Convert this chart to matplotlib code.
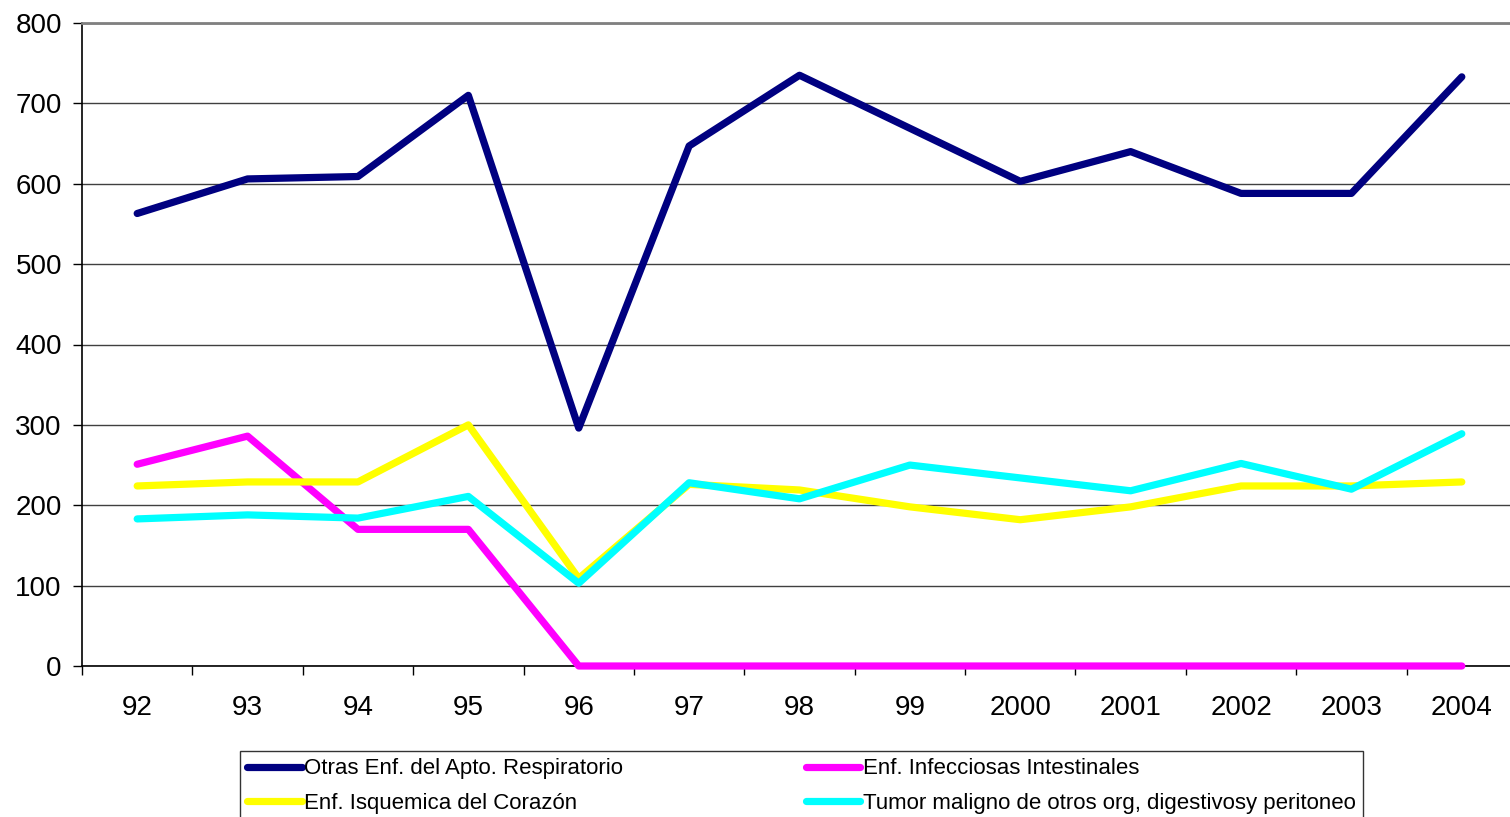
import matplotlib
matplotlib.use("Agg")
import matplotlib.pyplot as plt

years = ["92", "93", "94", "95", "96", "97", "98", "99", "2000", "2001", "2002", "2003", "2004"]
respiratorio = [563, 606, 609, 710, 296, 647, 735, 669, 603, 640, 588, 588, 733]
intestinales = [251, 286, 170, 170, 0, 0, 0, 0, 0, 0, 0, 0, 0]
isquemica = [224, 229, 229, 300, 109, 226, 219, 198, 182, 198, 224, 224, 229]
tumor = [183, 188, 184, 211, 103, 228, 208, 250, 234, 218, 252, 220, 289]

labels = ["Otras Enf. del Apto. Respiratorio", "Enf. Infecciosas Intestinales",
          "Enf. Isquemica del Corazón", "Tumor maligno de otros org, digestivosy peritoneo"]
colors = ["#000080", "#FF00FF", "#FFFF00", "#00FFFF"]

plt.rcParams['font.family'] = ['Liberation Sans', 'DejaVu Sans']

fig = plt.figure(figsize=(15.10, 8.17), dpi=100)
W, H = 1510, 817
ax = fig.add_axes([82 / W, 1 - 666 / H, 1435 / W, (666 - 23) / H])

x = list(range(len(years)))
series = [respiratorio, intestinales, isquemica, tumor]
handles = []
for s, c, l in zip(series, colors, labels):
    h, = ax.plot(x, s, color=c, lw=5.2, solid_capstyle='round', solid_joinstyle='round',
                 label=l, zorder=3, clip_on=False)
    handles.append(h)

ax.set_xlim(-0.5, len(years) - 0.5)
ax.set_ylim(0, 800)
ax.set_yticks(range(0, 801, 100))
ax.yaxis.grid(True, color='#404040', lw=1)
ax.set_axisbelow(True)
ax.set_xticks(x)
ax.set_xticklabels(years)
ax.set_xticks([i + 0.5 for i in range(-1, len(years))], minor=True)
ax.tick_params(axis='x', which='major', length=0, pad=21, labelsize=20)
ax.tick_params(axis='x', which='minor', length=6.5, width=1, direction='out', color='#000000')
ax.tick_params(axis='y', length=6.5, width=1, direction='out', labelsize=20, pad=8)
ax.spines['right'].set_visible(False)
ax.spines['top'].set_color('#808080')
ax.spines['top'].set_linewidth(2)
ax.spines['left'].set_linewidth(1.2)
ax.spines['bottom'].set_linewidth(1.2)

order = [0, 2, 1, 3]
leg = fig.legend([handles[i] for i in order], [labels[i] for i in order],
                 loc='upper left', bbox_to_anchor=(240 / W, 1 - 751 / H), ncol=2,
                 fontsize=16, frameon=True, fancybox=False, edgecolor='#000000',
                 handlelength=2.45, handletextpad=0.12, columnspacing=8.2,
                 labelspacing=0.62, borderpad=0.33, borderaxespad=0)
leg.get_frame().set_linewidth(1)

fig.savefig("out.png", dpi=100)
